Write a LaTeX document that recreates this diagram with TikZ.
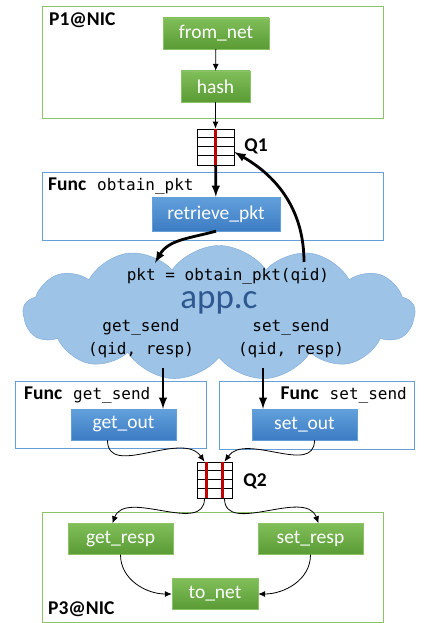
\documentclass[tikz,border=0pt]{standalone}
\usepackage{fontspec}
\setmainfont{Carlito}
\setmonofont{DejaVu Sans Mono}
\usetikzlibrary{shapes.symbols,arrows.meta}

\definecolor{nictop}{RGB}{128,190,90}
\definecolor{nicbot}{RGB}{90,155,52}
\definecolor{nicedge}{RGB}{140,195,105}
\definecolor{fntop}{RGB}{98,160,220}
\definecolor{fnbot}{RGB}{60,124,194}
\definecolor{fnedge}{RGB}{100,160,215}
\definecolor{cloudfill}{RGB}{157,195,230}
\definecolor{cloudedge}{RGB}{125,168,215}
\definecolor{appblue}{RGB}{47,88,145}
\definecolor{qred}{RGB}{192,0,0}

\newcommand{\func}[1]{\textbf{Func}\hspace{11pt}{\ttfamily\fontsize{16}{20}\selectfont #1}}

\begin{document}
\begin{tikzpicture}[x=1pt,y=1pt,
nicbox/.style={rectangle,top color=nictop,bottom color=nicbot,draw=nicedge,
 thin,text=white,font=\fontsize{19.5}{22}\selectfont,minimum height=31,inner sep=0},
fnbox/.style={nicbox,top color=fntop,bottom color=fnbot,draw=fnedge},
nicframe/.style={draw=nicedge,line width=1.3,minimum width=341,anchor=north west},
fnframe/.style={draw=fnedge,line width=1.3,anchor=north west},
queue/.style={draw,thick,fill=white,minimum width=37,minimum height=36,inner sep=0},
qline/.style={draw=qred,line width=2.6},
lbl/.style={font=\bfseries\fontsize{19.5}{22}\selectfont,inner sep=0},
code/.style={font=\ttfamily\fontsize{16}{23}\selectfont,align=center,inner sep=0},
bigarrow/.style={-latex,line width=2.8},
smallarrow/.style={-{Latex[length=7,width=6]},line width=0.8}]
 \useasboundingbox (0,0) rectangle (423,-623);

 % containers
 \node[nicframe,minimum height=112] (p1) at (42,-6) {};
 \node[fnframe,minimum width=341,minimum height=68] (obt) at (42,-172) {};
 \node[fnframe,minimum width=191,minimum height=67] (gsf) at (15,-381) {};
 \node[fnframe,minimum width=195,minimum height=68] (ssf) at (219,-381) {};
 \node[nicframe,minimum height=110] (p3) at (42,-512) {};

 \node[lbl,anchor=west] (p1lbl) at (49,-20) {P1@NIC};
 \node[lbl,anchor=west] (p3lbl) at (48,-609) {P3@NIC};
 \node[anchor=west,inner sep=0,font=\fontsize{19.5}{22}\selectfont] (obtlbl) at (48,-186) {\func{obtain\_pkt}};
 \node[anchor=west,inner sep=0,font=\fontsize{19.5}{22}\selectfont] (gslbl) at (24,-395) {\func{get\_send}};
 \node[anchor=east,inner sep=0,font=\fontsize{19.5}{22}\selectfont] (sslbl) at (407,-395) {\func{set\_send}};

 % app.c cloud
 \node[cloud,cloud puffs=13,cloud puff arc=110,aspect=2.9,draw=cloudedge,
 fill=cloudfill,minimum width=392,minimum height=135,inner sep=0] (app) at (219,-313) {};
 \node[code] (call) at (228,-276) {pkt = obtain\_pkt(qid)};
 \node[font=\fontsize{35}{40}\selectfont,text=appblue,inner sep=0] (appname) at (219,-303) {app.c};
 \node[code] (gsend) at (141,-339) {get\_send\\(qid, resp)};
 \node[code] (ssend) at (291,-339) {set\_send\\(qid, resp)};
 \coordinate (pin) at (155,-263);
 \coordinate (pout) at (304,-262);
 \coordinate (gs) at (163,-368);
 \coordinate (ss) at (263,-368);

 % boxes
 \node[nicbox,minimum width=106] (from_net) at (216,-33.5) {from\_net};
 \node[nicbox,minimum width=69] (hash) at (215.5,-86.5) {hash};
 \node[fnbox,minimum width=128,minimum height=34] (retrieve_pkt) at (216,-214) {retrieve\_pkt};
 \node[fnbox,minimum width=105] (get_out) at (123.5,-424.5) {get\_out};
 \node[fnbox,minimum width=105] (set_out) at (304.5,-424.5) {set\_out};
 \node[nicbox,minimum width=105] (get_resp) at (120.5,-539) {get\_resp};
 \node[nicbox,minimum width=105] (set_resp) at (310.5,-539) {set\_resp};
 \node[nicbox,minimum width=86] (to_net) at (215,-594) {to\_net};

 % queues
 \node[queue] (Q1) at (215.5,-147) {};
 \node[queue,minimum width=35] (Q2) at (214.5,-480) {};
 \foreach \Q in {Q1,Q2}
 {\foreach \r in {1,2,3}
 \draw[thick] ([yshift=-\r*9pt]\Q.north west) -- ([yshift=-\r*9pt]\Q.north east);}
 \draw[qline] (Q1.north) -- (Q1.south);
 \foreach \X in {-8,8}
 \draw[qline] ([xshift=\X pt]Q2.north) -- ([xshift=\X pt]Q2.south);
 \node[lbl] (q1lbl) at (256,-146) {Q1};
 \node[lbl] (q2lbl) at (255,-481) {Q2};

 % connectors
 \draw[smallarrow] (from_net) -- (hash);
 \draw[smallarrow] (hash) -- (Q1);
 \draw[bigarrow] (Q1) -- (retrieve_pkt);
 \draw[bigarrow] (retrieve_pkt.south) to[out=195,in=60] (pin);
 \draw[bigarrow] (pout) to[out=90,in=-30] ([yshift=-5pt]Q1.east);
 \draw[bigarrow] (gs) -- (gs |- get_out.north);
 \draw[bigarrow] (ss) -- (ss |- set_out.north);
 \draw[smallarrow] ([xshift=-16pt]get_out.south) to[out=-90,in=125] ([xshift=-10pt]Q2.north);
 \draw[smallarrow] ([xshift=10pt]set_out.south) to[out=-90,in=55] ([xshift=10pt]Q2.north);
 \draw[smallarrow] ([xshift=-10pt]Q2.south) to[out=-90,in=70] ([xshift=-8pt]get_resp.north);
 \draw[smallarrow] ([xshift=10pt]Q2.south) to[out=-90,in=110] ([xshift=8pt]set_resp.north);
 \draw[smallarrow] (get_resp.south) to[out=-90,in=180] (to_net.west);
 \draw[smallarrow] (set_resp.south) to[out=-90,in=0] (to_net.east);
\end{tikzpicture}
\end{document}
